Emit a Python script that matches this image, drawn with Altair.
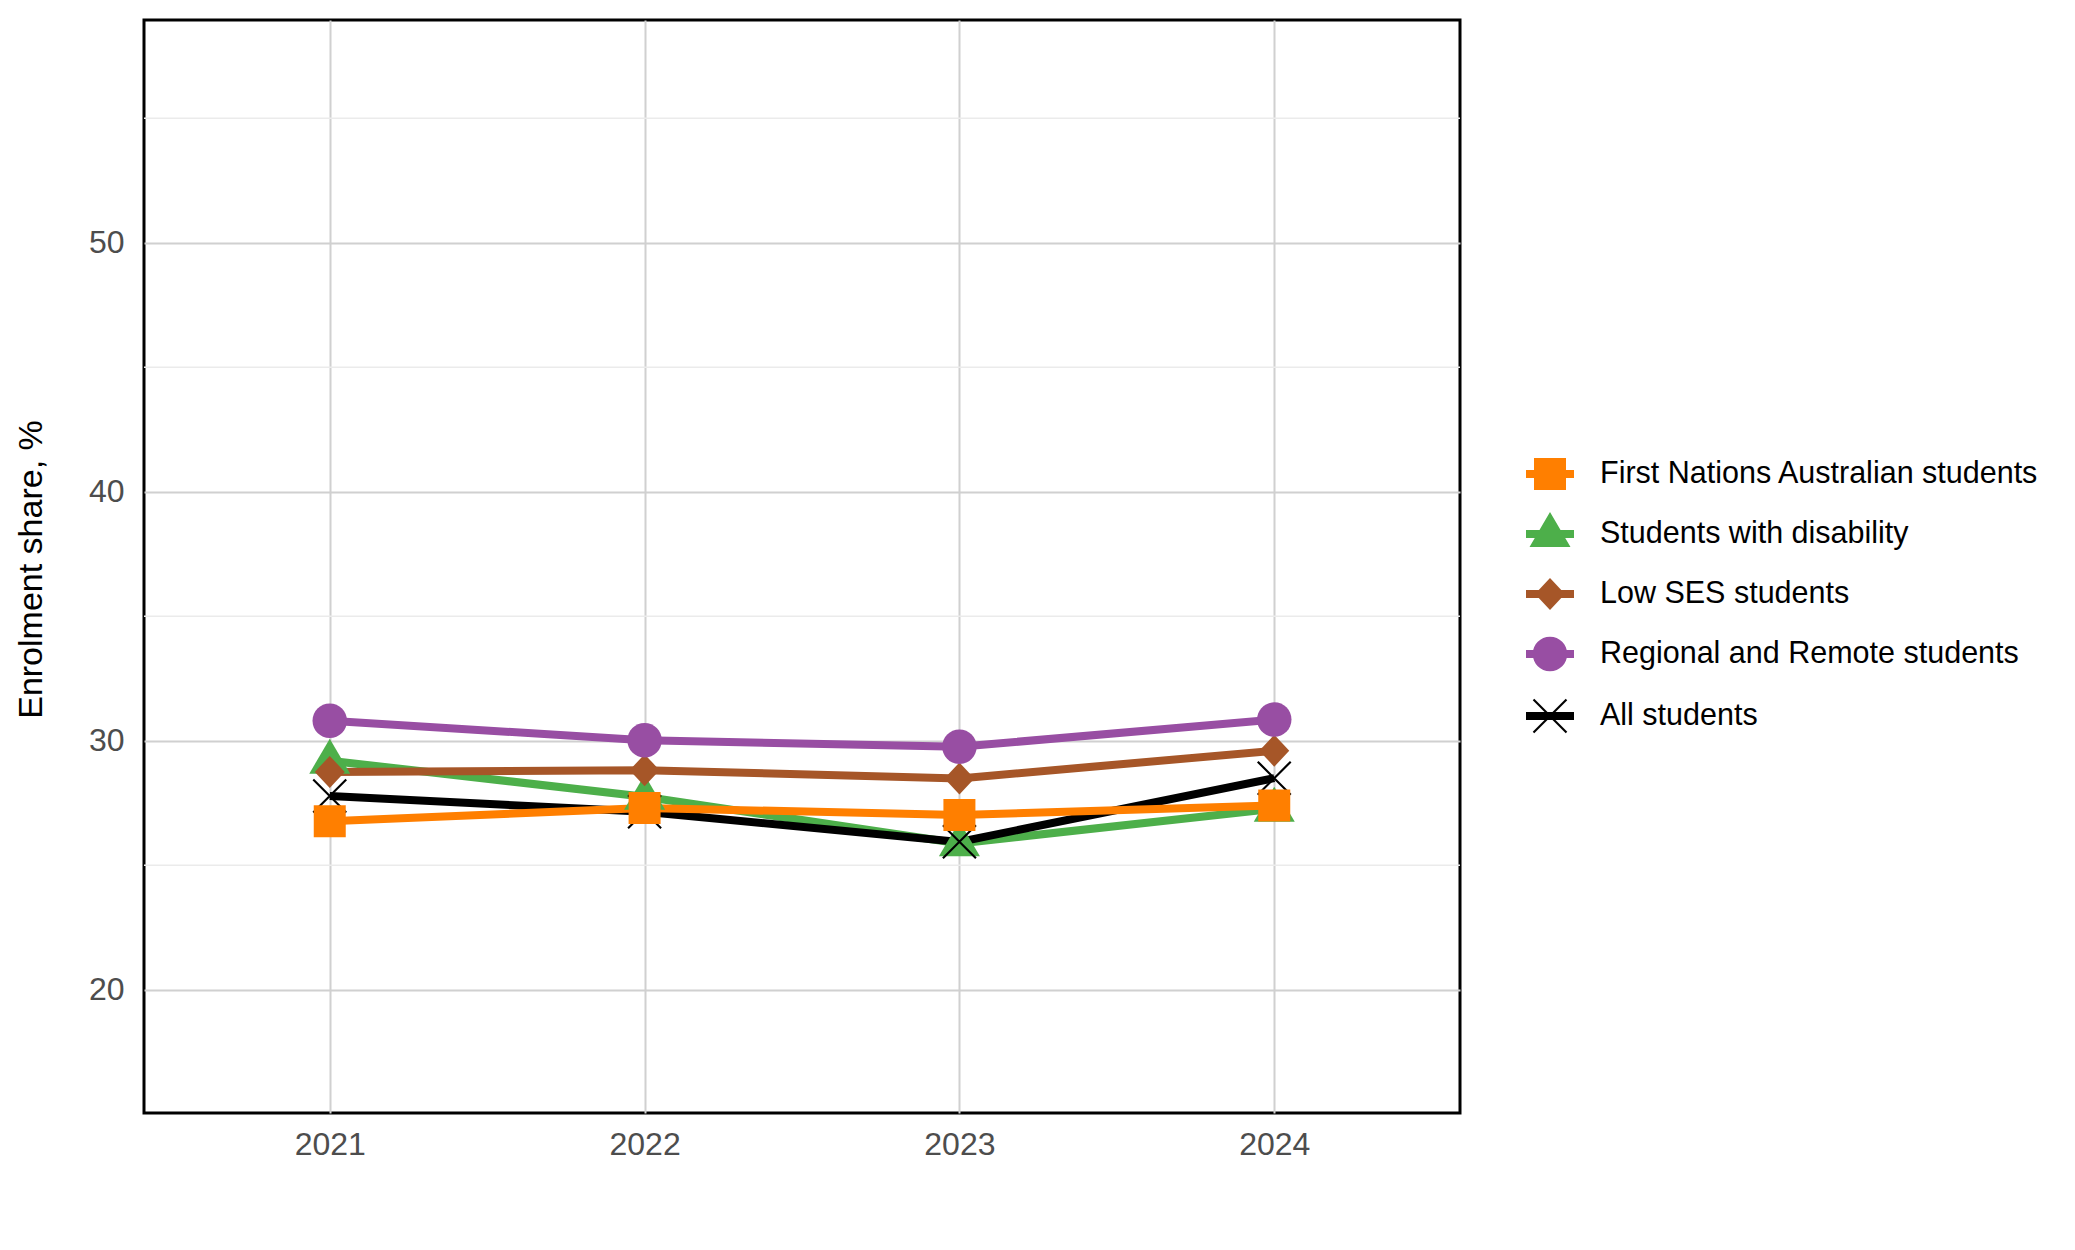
import altair as alt
import pandas as pd

# ---------------- data ----------------
years = [2021, 2022, 2023, 2024]
series_names = [
    "First Nations Australian students",
    "Students with disability",
    "Low SES students",
    "Regional and Remote students",
    "All students",
]
first_nations = [26.77, 27.30, 27.02, 27.40]
disability = [29.20, 27.75, 25.88, 27.27]
low_ses = [28.75, 28.82, 28.49, 29.60]
regional = [30.80, 30.02, 29.76, 30.85]
all_students = [27.78, 27.15, 25.94, 28.50]
series_values = [first_nations, disability, low_ses, regional, all_students]

colors = ["#FF7F00", "#4DAF4A", "#A65628", "#984EA3", "#000000"]
y_ticks = [20, 30, 40, 50]
y_minor = [25, 35, 45, 55]

# drawing order of the series (bottom to top)
draw_order = [1, 2, 3, 4, 0]

# ---------------- marker shapes (unit = 25px at size 2500) ----------------
marker_paths = [
    "M-0.64,-0.64H0.64V0.64H-0.64Z",  # square
    "M0,-0.88L0.82,0.52L-0.82,0.52Z",  # triangle
    "M0,-0.64L0.6,0L0,0.64L-0.6,0Z",  # diamond
    "M-0.69,0A0.69,0.69 0 1,1 0.69,0A0.69,0.69 0 1,1 -0.69,0Z",  # circle
    "M-0.63,-0.69L0.69,0.63L0.63,0.69L-0.69,-0.63Z"
    "M-0.69,0.63L0.63,-0.69L0.69,-0.63L-0.63,0.69Z",  # X
]
bar_path = "M-0.96,-0.16H0.96V0.16H-0.96Z"
legend_paths = [bar_path + p for p in marker_paths]

rows = []
for name, vals in zip(series_names, series_values):
    for yr, v in zip(years, vals):
        rows.append({"series": name, "year": yr, "value": v})
df = pd.DataFrame(rows)
minor_df = pd.DataFrame({"v": y_minor})

FONT = "Liberation Sans"
x_scale = alt.Scale(domain=[2020.41, 2024.59], nice=False, zero=False)
y_scale = alt.Scale(domain=[15.05, 58.95], nice=False, zero=False)

x_enc = alt.X(
    "year:Q",
    scale=x_scale,
    axis=alt.Axis(values=years, format="d", title=None, labelPadding=16),
)


def y_enc(field):
    return alt.Y(
        field,
        scale=y_scale,
        axis=alt.Axis(
            values=y_ticks,
            title="Enrolment share, %",
            labelPadding=20,
            titleX=-113,
            titleY=549,
            titleAngle=270,
            titleAlign="center",
            titleBaseline="middle",
            titleFont=FONT,
            titleFontSize=34,
            titleFontWeight="normal",
            titleColor="black",
        ),
    )


base = alt.Chart(df)

minor = (
    alt.Chart(minor_df)
    .mark_rule(color="#ebebeb", strokeWidth=1.5)
    .encode(y=y_enc("v:Q"))
)

line_layers = []
point_layers = []
for i in draw_order:
    name, col, path = series_names[i], colors[i], marker_paths[i]
    sub = base.transform_filter(alt.datum.series == name)
    line_layers.append(
        sub.mark_line(strokeWidth=8, color=col).encode(x=x_enc, y=y_enc("value:Q"))
    )
    point_layers.append(
        sub.mark_point(filled=True, opacity=1, size=2500, color=col, shape=path, strokeWidth=0)
        .encode(x=x_enc, y=y_enc("value:Q"))
    )

leg = alt.Legend(
    title=None,
    orient="none",
    legendX=1381,
    legendY=429,
    padding=0,
    symbolSize=2500,
    symbolOpacity=1,
    symbolStrokeWidth=0,
    labelFont=FONT,
    labelFontSize=30.5,
    labelColor="black",
    labelOffset=25,
    rowPadding=19,
    labelLimit=800,
)

legend_layer = (
    base.transform_filter("false")
    .mark_point(filled=True, opacity=1, size=2500, strokeWidth=0)
    .encode(
        x=x_enc,
        y=y_enc("value:Q"),
        color=alt.Color(
            "series:N", scale=alt.Scale(domain=series_names, range=colors), legend=leg
        ),
        shape=alt.Shape(
            "series:N", scale=alt.Scale(domain=series_names, range=legend_paths), legend=leg
        ),
    )
)

chart = (
    alt.layer(minor, *line_layers, *point_layers, legend_layer)
    .properties(
        width=1316,
        height=1093,
        autosize=alt.AutoSizeParams(type="none"),
        padding={"left": 136, "top": 12, "right": 600, "bottom": 100},
        background="white",
    )
    .configure_view(stroke="black", strokeWidth=3)
    .configure_axis(
        labelFont=FONT,
        labelFontSize=32,
        labelColor="#4d4d4d",
        ticks=False,
        tickSize=0,
        domain=False,
        grid=True,
        gridColor="#d0d0d0",
        gridWidth=2,
    )
)

chart.save("out.html", embed_options={"renderer": "svg", "actions": False})
